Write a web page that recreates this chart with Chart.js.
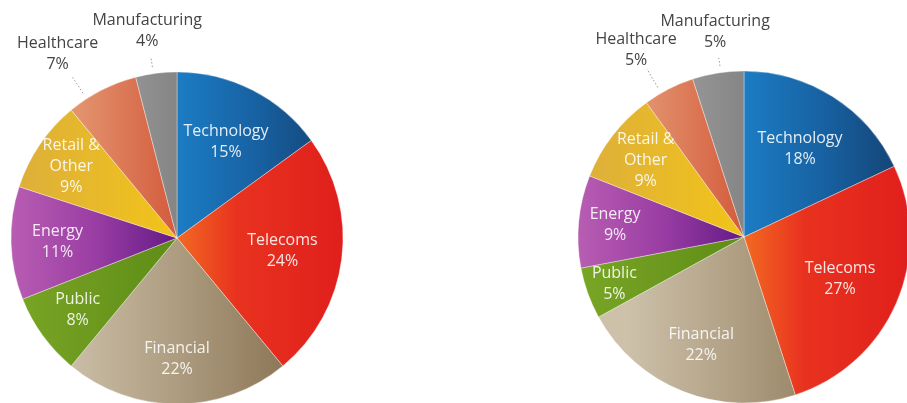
<!DOCTYPE html>
<html>
<head>
<meta charset="utf-8">
<script src="https://cdn.jsdelivr.net/npm/chart.js@4.4.1/dist/chart.umd.min.js"></script>
<style>
  html, body { margin: 0; padding: 0; background: #fff; }
  body { width: 907px; height: 403px; overflow: hidden; position: relative; }
  .pie { position: absolute; top: 0; }
  #left-wrap { left: 0; }
  #right-wrap { left: 460px; }
</style>
</head>
<body>
<div class="pie" id="left-wrap"><canvas id="leftChart" width="354" height="476"></canvas></div>
<div class="pie" id="right-wrap"><canvas id="rightChart" width="568" height="474"></canvas></div>

<script>
// Sector split, two periods
const sectors = ['Technology', 'Telecoms', 'Financial', 'Public', 'Energy', 'Retail & Other', 'Healthcare', 'Manufacturing'];
const leftShares = [15, 24, 22, 8, 11, 9, 7, 4];
const rightShares = [18, 27, 22, 5, 9, 9, 5, 5];

// Horizontal gradient stops for each sector (position across the pie, colour)
const sectorGradients = [
    [[0.5, '#1c7cc4'], [0.75, '#1760a0'], [1, '#143f6e']],
    [[0.5, '#f26a22'], [0.68, '#e8321f'], [1, '#e01f1c']],
    [[0.15, '#cdc1aa'], [0.5, '#ad9c80'], [0.85, '#8b7454']],
    [[0, '#7aa626'], [0.5, '#5e8c16']],
    [[0, '#b85db2'], [0.25, '#9a3ea4'], [0.5, '#651a86']],
    [[0, '#dcae3c'], [0.5, '#f2c419']],
    [[0.2, '#e3936e'], [0.5, '#d35b3c']],
    [[0.3, '#9a9a9a'], [0.5, '#858585']]
];
const flatColours = ['#1766a8', '#e3261d', '#a8967a', '#6a9a1f', '#8a2e98', '#e8b82a', '#d87050', '#8f8f8f'];

function sectorFill(context) {
    const chart = context.chart;
    const area = chart.chartArea;
    const i = context.dataIndex;
    if (!area) return flatColours[i];
    const r = chart.getDatasetMeta(0).controller.outerRadius || (area.width / 2);
    const cx = (area.left + area.right) / 2;
    const g = chart.ctx.createLinearGradient(cx - r, 0, cx + r, 0);
    sectorGradients[i].forEach(([pos, col]) => g.addColorStop(pos, col));
    return g;
}

// Draws the percentage labels; small sectors listed in "outside" get a dotted leader
const sliceLabels = {
    id: 'sliceLabels',
    afterDatasetsDraw(chart, args, opts) {
        const ctx = chart.ctx;
        const meta = chart.getDatasetMeta(0);
        const values = chart.data.datasets[0].data;
        ctx.save();
        ctx.font = '16px "Open Sans", sans-serif';
        ctx.textAlign = 'center';
        ctx.textBaseline = 'middle';
        meta.data.forEach((arc, i) => {
            const p = arc.getProps(['x', 'y', 'startAngle', 'endAngle', 'outerRadius'], true);
            const lines = chart.data.labels[i].replace('& ', '&\n').split('\n');
            lines.push(values[i] + '%');
            const mid = (p.startAngle + p.endAngle) / 2;
            const out = opts.outside[i];
            let lx, ly;
            if (out) {
                const a = mid + out.nudge * Math.PI / 180;
                const cos = Math.cos(a), sin = Math.sin(a);
                ctx.strokeStyle = '#9a9a9a';
                ctx.lineWidth = 1;
                ctx.setLineDash([1.5, 2]);
                ctx.beginPath();
                ctx.moveTo(p.x + cos * p.outerRadius * 1.04, p.y + sin * p.outerRadius * 1.04);
                ctx.lineTo(p.x + cos * p.outerRadius * out.lead, p.y + sin * p.outerRadius * out.lead);
                ctx.stroke();
                ctx.setLineDash([]);
                lx = p.x + cos * p.outerRadius * out.dist;
                ly = p.y + sin * p.outerRadius * out.dist;
                ctx.fillStyle = '#444444';
            } else {
                const f = opts.radius[i];
                lx = p.x + Math.cos(mid) * p.outerRadius * f;
                ly = p.y + Math.sin(mid) * p.outerRadius * f;
                ctx.fillStyle = 'rgba(255, 255, 255, 0.88)';
            }
            const lh = 21;
            const top = ly - (lines.length - 1) * lh / 2;
            lines.forEach((t, k) => ctx.fillText(t, lx, top + k * lh));
        });
        ctx.restore();
    }
};

function makePie(id, shares, labelOpts) {
    return new Chart(document.getElementById(id), {
        type: 'pie',
        data: {
            labels: sectors,
            datasets: [{
                data: shares,
                backgroundColor: sectorFill,
                borderColor: 'rgba(255, 255, 255, 0.35)',
                borderWidth: 1,
                radius: 166
            }]
        },
        options: {
            responsive: false,
            animation: false,
            events: [],
            layout: { padding: 0 },
            plugins: {
                legend: { display: false },
                tooltip: { enabled: false },
                sliceLabels: labelOpts
            }
        },
        plugins: [sliceLabels]
    });
}

makePie('leftChart', leftShares, {
    radius: [0.65, 0.64, 0.73, 0.74, 0.72, 0.77],
    outside: { 6: { nudge: -6, lead: 1.16, dist: 1.32 }, 7: { nudge: -1, lead: 1.1, dist: 1.26 } }
});
makePie('rightChart', rightShares, {
    radius: [0.63, 0.63, 0.70, 0.83, 0.78, 0.75],
    outside: { 6: { nudge: -3, lead: 1.17, dist: 1.3 }, 7: { nudge: 1, lead: 1.09, dist: 1.25 } }
});
</script>
</body>
</html>
